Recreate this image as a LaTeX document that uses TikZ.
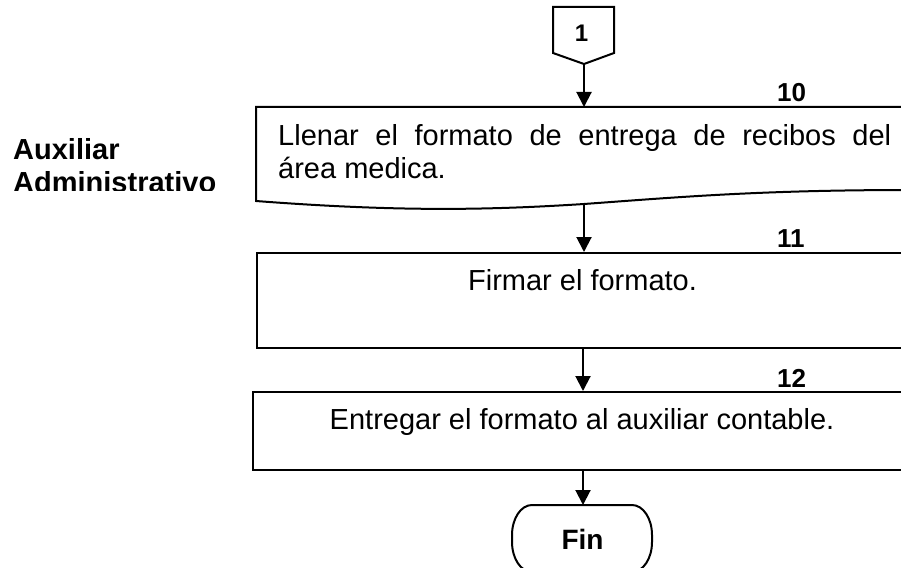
\documentclass[tikz,border=0pt]{standalone}
\usepackage{fontspec}
\setmainfont{Liberation Sans}
\usetikzlibrary{arrows.meta}
\begin{document}
\begin{tikzpicture}[x=1pt,y=-1pt,
  shapeline/.style={draw=black,line width=2pt},
  flowarrow/.style={line width=2pt,-{Triangle[width=15pt,length=15pt]}},
  bodytext/.style={inner sep=0pt,font=\fontsize{29}{33}\selectfont},
  boldtext/.style={inner sep=0pt,font=\fontsize{29}{33}\selectfont\bfseries},
  numlabel/.style={inner sep=0pt,anchor=base west,font=\fontsize{26}{30}\selectfont\bfseries},
  procbox/.style={shapeline,rectangle,inner sep=0pt,anchor=north west}]
\useasboundingbox (0,0) rectangle (901,567);
\clip (0,0) rectangle (901,567);

% lane label (clipped at bottom as in the reference)
\begin{scope}
  \clip (0,100) rectangle (240,190.5);
  \node[boldtext,anchor=base west] (lab1) at (13,159) {Auxiliar};
  \node[boldtext,anchor=base west] (lab2) at (13,192) {Administrativo};
\end{scope}

% off-page connector
\draw[shapeline] (553,7) -- (614,7) -- (614,53) -- (584,64) -- (553,53) -- cycle;
\coordinate (c1) at (584,64);
\node[inner sep=0pt,anchor=base,font=\fontsize{24}{28}\selectfont\bfseries] (n1) at (581.5,42) {1};

% document box 10
\draw[shapeline] (256,107) -- (912,107) -- (912,190)
  .. controls (760,190) and (680,197) .. (584,204)
  .. controls (490,210) and (400,212) .. (256,201) -- cycle;
\coordinate (b1n) at (584,107);
\coordinate (b1s) at (584,204);
\node[bodytext,anchor=base west] (t1a) at (278,145) {\makebox[613pt][s]{Llenar el formato de entrega de recibos del}};
\node[bodytext,anchor=base west] (t1b) at (278,178) {área medica.};
\node[numlabel] (num10) at (777,102) {10};

% box 11
\node[procbox,minimum width=654pt,minimum height=95pt] (b2) at (256,252) {};
\node[bodytext,anchor=base] (t2) at (582.5,290) {Firmar el formato.};
\node[numlabel] (num11) at (777,247) {11};

% box 12
\node[procbox,minimum width=660pt,minimum height=78pt] (b3) at (252,391) {};
\node[bodytext,anchor=base] (t3) at (582,429) {Entregar el formato al auxiliar contable.};
\node[numlabel] (num12) at (777,387) {12};

% terminal
\draw[shapeline] (532,505) -- (632,505)
  .. controls (643.05,505) and (652,518.4) .. (652,535) -- (652,542)
  .. controls (652,558.6) and (643.05,572) .. (632,572) -- (532,572)
  .. controls (520.95,572) and (512,558.6) .. (512,542) -- (512,535)
  .. controls (512,518.4) and (520.95,505) .. (532,505) -- cycle;
\coordinate (fint) at (583,505);
\node[inner sep=0pt,anchor=base,font=\fontsize{28}{32}\selectfont\bfseries] (fin) at (582.5,549) {Fin};

% connectors
\coordinate (a3) at (583,0);
\draw[flowarrow] (c1) -- (b1n);
\draw[flowarrow] (b1s) -- (b1s |- b2.north);
\draw[flowarrow] (a3 |- b2.south) -- (a3 |- b3.north);
\draw[flowarrow] (a3 |- b3.south) -- (fint);
\end{tikzpicture}
\end{document}
